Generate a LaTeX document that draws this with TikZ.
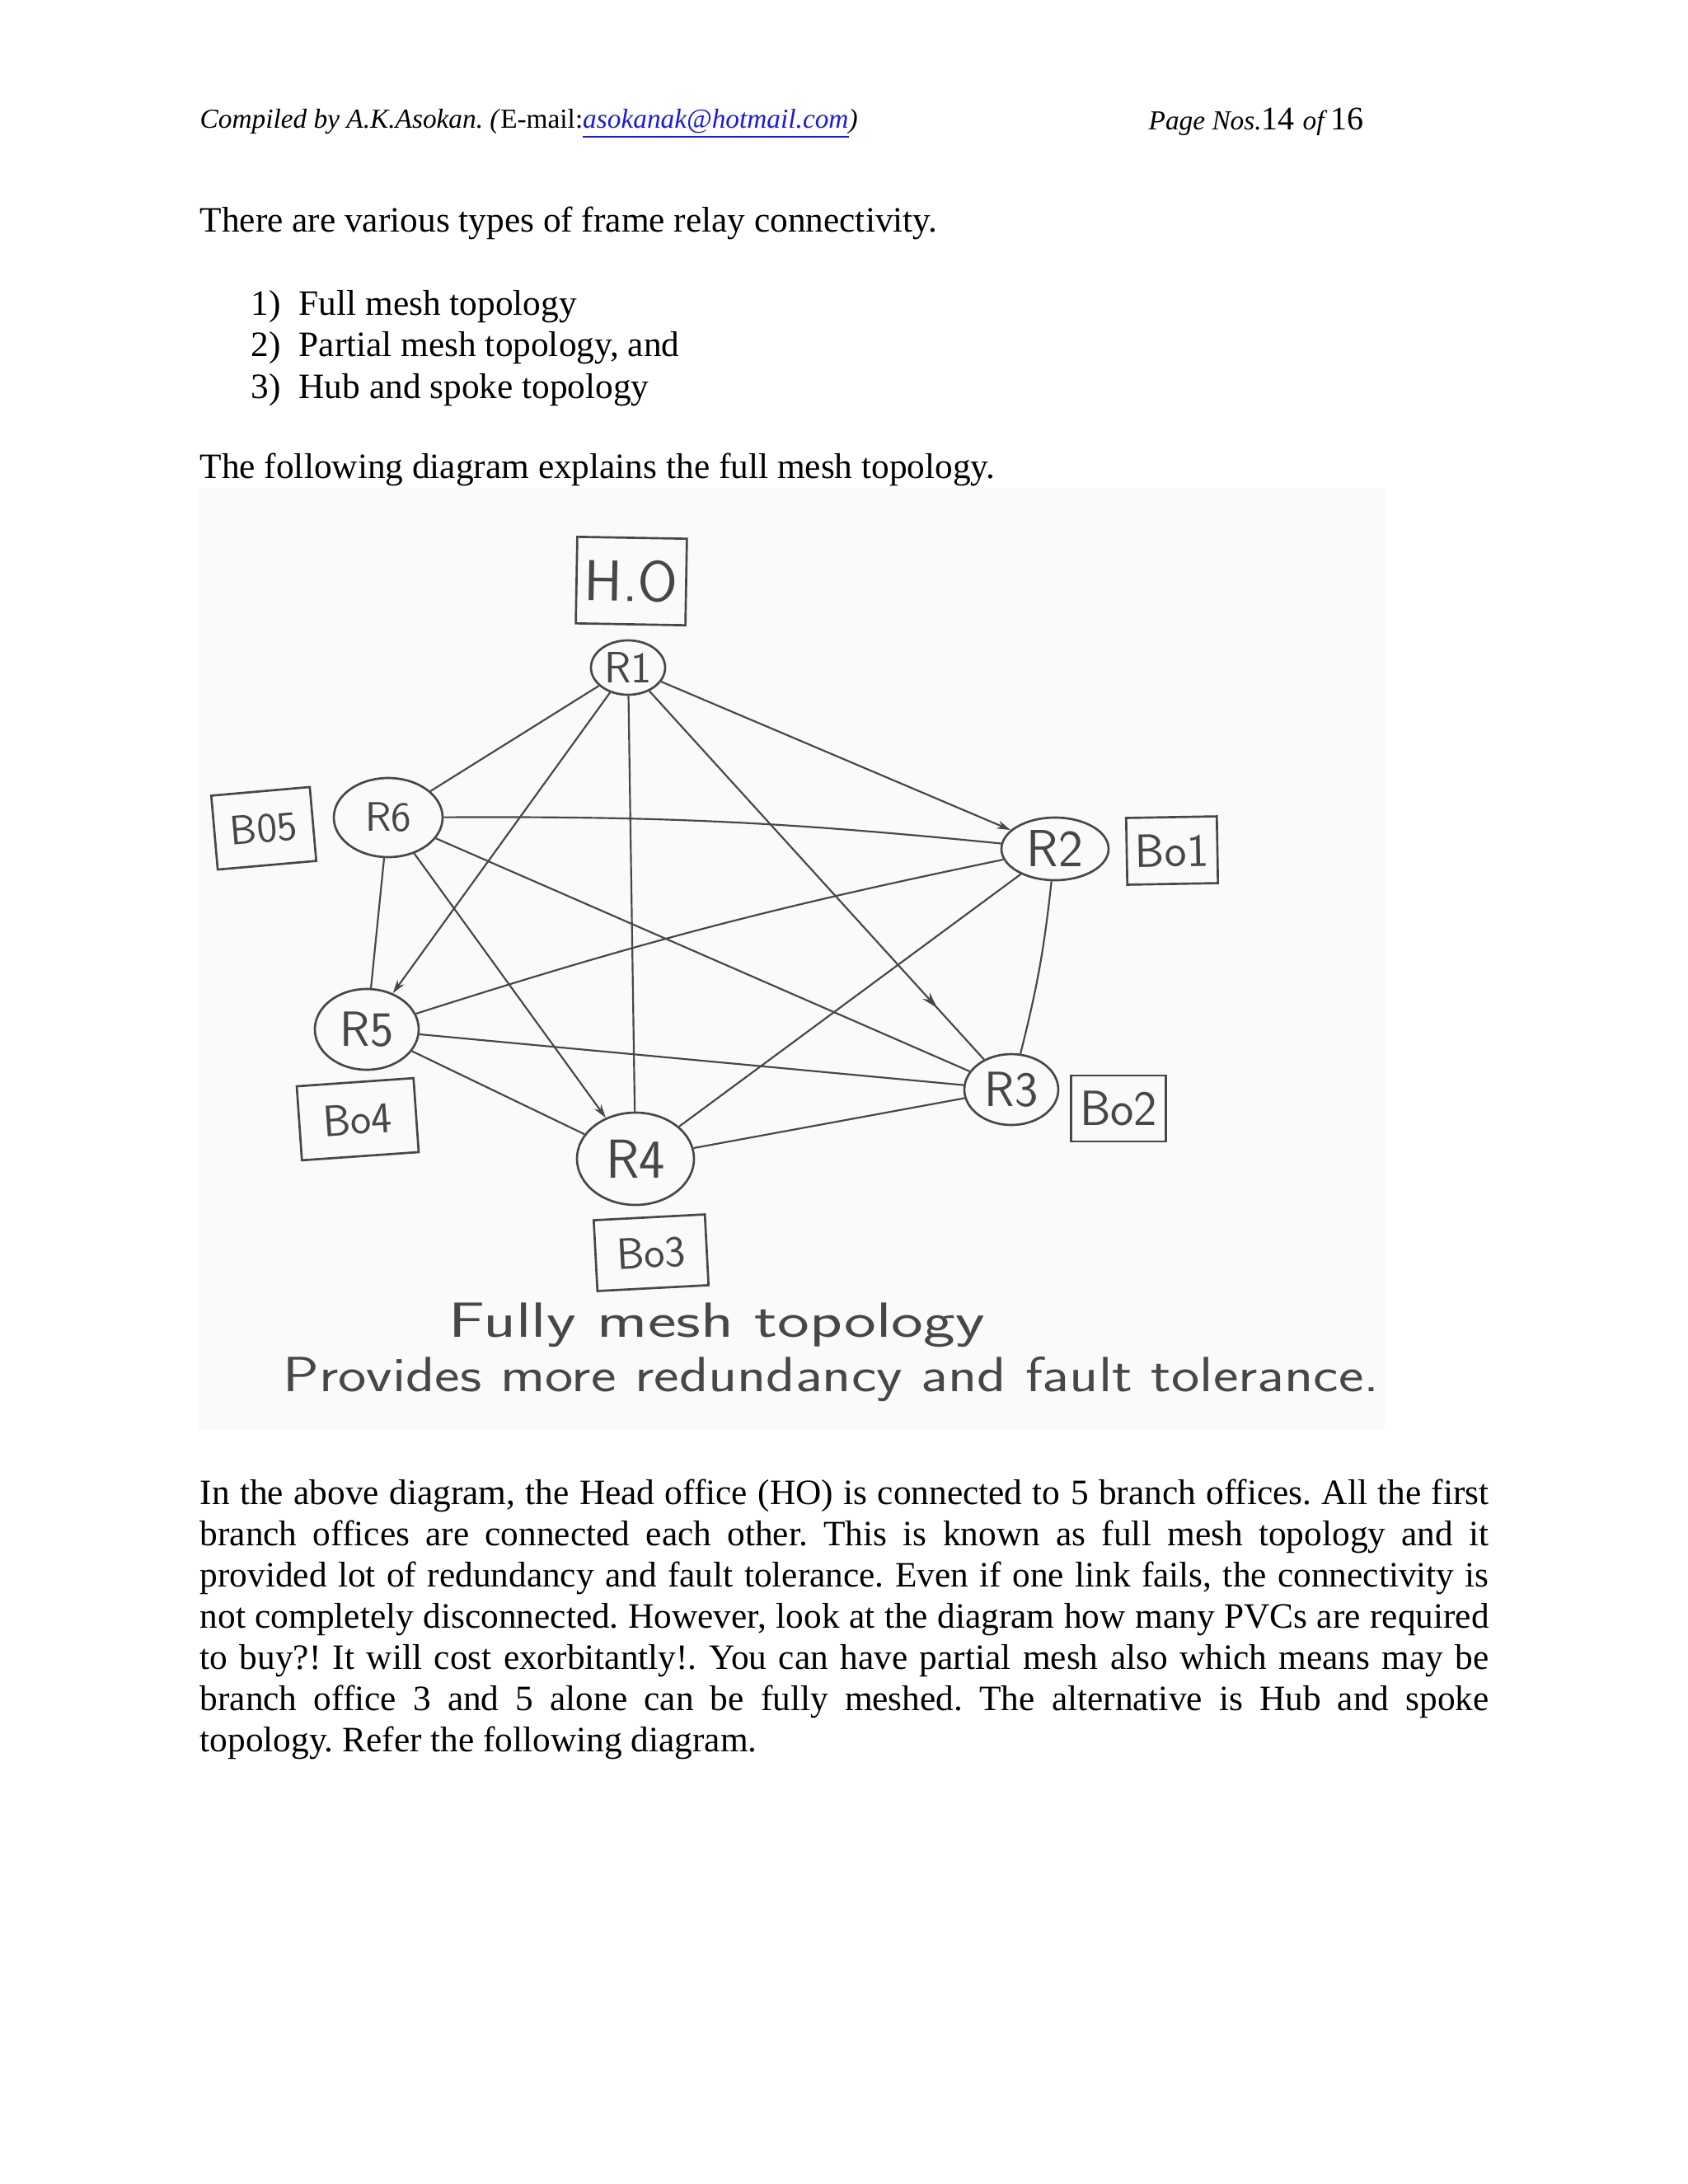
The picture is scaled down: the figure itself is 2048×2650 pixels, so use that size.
\documentclass[tikz,border=0pt]{standalone}
\usepackage{fontspec}
\usepackage{graphicx}
\setmainfont{Liberation Serif}
\usetikzlibrary{shapes.geometric,arrows.meta,decorations.markings}
\definecolor{ink}{HTML}{474747}
\definecolor{scanbg}{HTML}{FAFAFA}
\definecolor{linkblue}{HTML}{1A1AE6}
\newcommand{\hand}{\sffamily}
\newcommand{\hs}[1]{\fontsize{#1}{#1}\selectfont}
\begin{document}
\frenchspacing
\begin{tikzpicture}[x=0.3pt,y=-0.3pt,
  router/.style={ellipse, draw=ink, line width=0.8pt, inner sep=0pt, text=ink},
  tag/.style={rectangle, draw=ink, line width=0.8pt, inner sep=0pt, text=ink},
  link/.style={draw=ink, line width=0.65pt},
  tip/.style={-{Stealth[length=5pt,width=3pt]}},
  body/.style={anchor=base west, inner sep=0pt, font=\fontsize{13}{15}\selectfont},
  hw/.style={anchor=base west, inner sep=0pt, text=ink, font=\hand\hs{18}}]
\useasboundingbox (0,0) rectangle (2048,2650);
\fill[white] (0,0) rectangle (2048,2650);
\fill[scanbg] (240,592) rectangle (1680,1735);

% header
\node[anchor=base west, inner sep=0pt, font=\fontsize{10}{12}\selectfont\itshape] (hdr) at (242,155)
  {Compiled by A.K.Asokan. (\textup{E-mail:}\textcolor{linkblue}{\underline{asokanak@hotmail.com}})};
\node[anchor=base west, inner sep=0pt] (pg) at (1393,157)
  {\fontsize{10}{12}\selectfont\itshape Page Nos.\fontsize{12}{14}\selectfont\upshape 14 \fontsize{10}{12}\selectfont\itshape of \fontsize{12}{14}\selectfont\upshape 16};

% intro text
\node[body] (t1) at (242,281) {There are various types of frame relay connectivity.};
\node[body] (n1) at (304,382) {1)};
\node[body] (l1) at (362,382) {Full mesh topology};
\node[body] (n2) at (304,432) {2)};
\node[body] (l2) at (362,432) {Partial mesh topology, and};
\node[body] (n3) at (304,483) {3)};
\node[body] (l3) at (362,483) {Hub and spoke topology};
\node[body] (t2) at (242,580) {The following diagram explains the full mesh topology.};

% routers
\node[router, minimum width=27pt, minimum height=19.8pt, font=\hand\hs{16}] (R1) at (762,810) {R1};
\node[router, minimum width=39pt, minimum height=22.8pt, font=\hand\hs{19}] (R2) at (1280,1030) {R2};
\node[router, minimum width=34.2pt, minimum height=25.8pt, font=\hand\hs{18}] (R3) at (1227,1322) {R3};
\node[router, minimum width=42.6pt, minimum height=33.6pt, font=\hand\hs{20}] (R4) at (771,1406) {R4};
\node[router, minimum width=37.8pt, minimum height=29.4pt, font=\hand\hs{18}] (R5) at (445,1249) {R5};
\node[router, minimum width=39.6pt, minimum height=28.8pt, font=\hand\hs{15}] (R6) at (471,992) {R6};

% office tags
\node[tag, minimum width=39.9pt, minimum height=31.5pt, font=\hand\hs{21}, rotate=-1] (HO) at (766,705) {H.O};
\node[tag, minimum width=33pt, minimum height=24.3pt, font=\hand\hs{17}, rotate=1] (B1) at (1422,1032) {Bo1};
\node[tag, minimum width=34.5pt, minimum height=24pt, font=\hand\hs{18}] (B2) at (1357,1345) {Bo2};
\node[tag, minimum width=40.5pt, minimum height=25.8pt, font=\hand\hs{16}, rotate=3] (B3) at (790,1520) {Bo3};
\node[tag, minimum width=42.6pt, minimum height=27pt, font=\hand\hs{16}, rotate=4] (B4) at (434,1358) {Bo4};
\node[tag, minimum width=36pt, minimum height=27pt, font=\hand\hs{15}, rotate=5] (B5) at (320,1005) {B05};

% links (full mesh)
\draw[link] (R1) -- (R6);
\draw[link, tip] (R1) -- (R2);
\draw[link, tip] (R1) -- (R5);
\draw[link] (R1) -- (R4);
\draw[link, postaction={decorate, decoration={markings, mark=at position 0.86 with {\arrow{Stealth[length=6pt,width=3.5pt]}}}}] (R1) -- (R3);
\draw[link] (R6) to[bend left=3] (R2);
\draw[link] (R6) -- (R3);
\draw[link, tip] (R6) -- (R4);
\draw[link] (R6) -- (R5);
\draw[link] (R2) to[bend right=3] (R5);
\draw[link] (R2) -- (R4);
\draw[link] (R2) to[bend left=4] (R3);
\draw[link] (R5) -- (R3);
\draw[link] (R5) -- (R4);
\draw[link] (R4) -- (R3);

% handwritten caption
\node[hw] (c1) at (544,1622) {\resizebox{195pt}{\height}{Fully mesh topology}};
\node[hw] (c2) at (343,1688) {\resizebox{399pt}{\height}{Provides more redundancy and fault tolerance.}};

% paragraph
\node[body] (p1) at (242,1825) {\makebox[469.2pt][s]{In the above diagram, the Head office (HO) is connected to 5 branch offices. All the first}};
\node[body] (p2) at (242,1875) {\makebox[469.2pt][s]{branch offices are connected each other. This is known as full mesh topology and it}};
\node[body] (p3) at (242,1925) {\makebox[469.2pt][s]{provided lot of redundancy and fault tolerance. Even if one link fails, the connectivity is}};
\node[body] (p4) at (242,1975) {\makebox[469.2pt][s]{not completely disconnected. However, look at the diagram how many PVCs are required}};
\node[body] (p5) at (242,2025) {\makebox[469.2pt][s]{to buy?! It will cost exorbitantly!. You can have partial mesh also which means may be}};
\node[body] (p6) at (242,2075) {\makebox[469.2pt][s]{branch office 3 and 5 alone can be fully meshed. The alternative is Hub and spoke}};
\node[body] (p7) at (242,2125) {topology. Refer the following diagram.};
\end{tikzpicture}
\end{document}
